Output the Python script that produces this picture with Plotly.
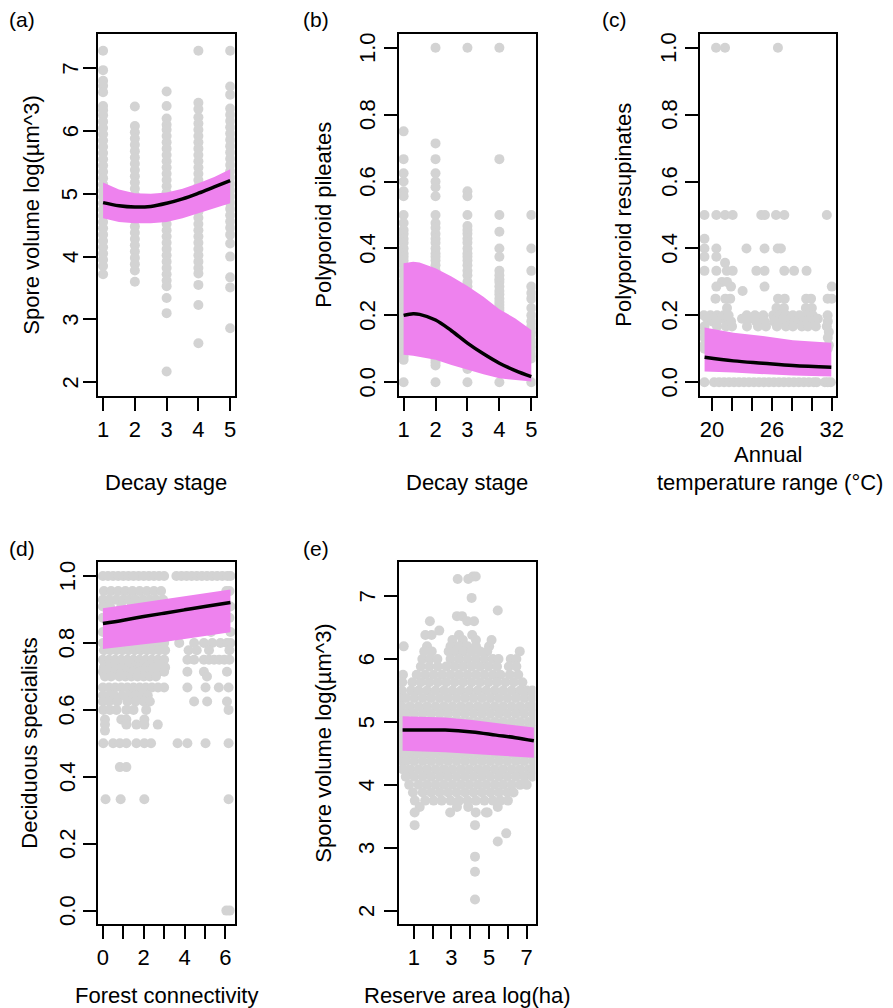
import plotly.graph_objects as go

W, H = 893, 1008
FONT = "Liberation Sans, Arial, Helvetica, sans-serif"
GREY = "#D3D3D3"
BAND = "#EE82EE"

# ------------------------------------------------------------------ data
# (a) spore volume vs decay stage
A_STAGES = [1, 2, 3, 4, 5]
A_COL_VALUES = [
    [7.28, 6.97, 6.8, 6.72, 6.62, 6.4, 6.33, 6.25, 6.15, 6.05, 5.95, 5.85, 5.75, 5.65, 5.55, 5.45, 5.35,
     5.25, 5.15, 5.05, 4.95, 4.85, 4.75, 4.65, 4.55, 4.45, 4.35, 4.25, 4.15, 4.05, 3.95, 3.85, 3.72],
    [6.39, 6.08, 5.98, 5.88, 5.78, 5.68, 5.58, 5.48, 5.38, 5.28, 5.18, 5.08, 4.98, 4.88, 4.78, 4.68,
     4.58, 4.48, 4.38, 4.28, 4.18, 4.08, 3.98, 3.88, 3.78, 3.6],
    [6.63, 6.4, 6.2, 6.1, 6.02, 5.92, 5.82, 5.72, 5.62, 5.52, 5.42, 5.32, 5.22, 5.12, 5.02, 4.92, 4.82,
     4.72, 4.62, 4.52, 4.42, 4.32, 4.22, 4.12, 4.02, 3.92, 3.82, 3.72, 3.62, 3.53, 3.34, 3.1, 2.17],
    [7.28, 6.45, 6.35, 6.22, 6.12, 6.02, 5.92, 5.82, 5.72, 5.62, 5.52, 5.42, 5.32, 5.22, 5.12, 5.02,
     4.92, 4.82, 4.72, 4.62, 4.52, 4.42, 4.32, 4.22, 4.12, 4.02, 3.92, 3.82, 3.73, 3.55, 3.23, 2.62],
    [7.28, 6.71, 6.58, 6.36, 6.26, 6.16, 6.06, 5.96, 5.86, 5.76, 5.66, 5.56, 5.46, 5.36, 5.26, 5.16,
     5.06, 4.96, 4.86, 4.76, 4.66, 4.56, 4.46, 4.35, 4.21, 4.0, 3.67, 3.51, 2.86],
]
A_FIT_X = [1, 1.5, 2, 2.5, 3, 3.5, 4, 4.5, 5]
A_FIT = [4.86, 4.81, 4.79, 4.80, 4.85, 4.92, 5.01, 5.11, 5.21]
A_UPPER = [5.18, 5.07, 5.01, 5.00, 5.02, 5.08, 5.17, 5.27, 5.39]
A_LOWER = [4.61, 4.55, 4.53, 4.53, 4.55, 4.61, 4.69, 4.77, 4.85]

# (b) polyporoid pileates vs decay stage
B_STAGES = [1, 2, 3, 4, 5]
B_COL_VALUES = [
    [0.75, 0.667, 0.625, 0.6, 0.571, 0.556, 0.5, 0.476, 0.455, 0.444, 0.429, 0.417, 0.4, 0.385, 0.375,
     0.364, 0.35, 0.333, 0.32, 0.3, 0.286, 0.273, 0.26, 0.25, 0.235, 0.222, 0.21, 0.2, 0.188, 0.176,
     0.167, 0.154, 0.143, 0.13, 0.118, 0.111, 0.1, 0.09, 0.077, 0.067, 0.0],
    [1.0, 0.714, 0.667, 0.625, 0.6, 0.583, 0.556, 0.5, 0.476, 0.462, 0.444, 0.429, 0.417, 0.4, 0.385,
     0.375, 0.364, 0.35, 0.333, 0.32, 0.3, 0.286, 0.273, 0.26, 0.25, 0.235, 0.222, 0.21, 0.2, 0.188,
     0.176, 0.167, 0.154, 0.143, 0.13, 0.118, 0.111, 0.1, 0.09, 0.077, 0.067, 0.059, 0.05, 0.0],
    [1.0, 0.571, 0.556, 0.5, 0.467, 0.455, 0.444, 0.429, 0.417, 0.4, 0.385, 0.375, 0.364, 0.35, 0.333,
     0.32, 0.3, 0.286, 0.273, 0.26, 0.25, 0.235, 0.222, 0.2, 0.182, 0.167, 0.143, 0.125, 0.111, 0.1,
     0.083, 0.071, 0.059, 0.048, 0.04, 0.0],
    [1.0, 0.667, 0.5, 0.45, 0.4, 0.375, 0.333, 0.32, 0.308, 0.3, 0.286, 0.273, 0.263, 0.25, 0.24, 0.231,
     0.222, 0.214, 0.2, 0.182, 0.167, 0.143, 0.125, 0.1, 0.083, 0.0],
    [0.5, 0.4, 0.333, 0.286, 0.267, 0.25, 0.222, 0.2, 0.182, 0.167, 0.154, 0.143, 0.125, 0.111, 0.1,
     0.083, 0.071, 0.0],
]
B_FIT_X = [1, 1.3, 1.5, 2, 2.5, 3, 3.5, 4, 4.5, 5]
B_FIT = [0.200, 0.205, 0.203, 0.186, 0.154, 0.117, 0.085, 0.057, 0.035, 0.017]
B_UPPER = [0.356, 0.360, 0.358, 0.341, 0.316, 0.288, 0.256, 0.218, 0.191, 0.156]
B_LOWER = [0.082, 0.079, 0.077, 0.067, 0.052, 0.037, 0.024, 0.012, 0.007, 0.002]

# (c) polyporoid resupinates vs annual temperature range
C_ROW_Y = [1.0, 0.5, 0.429, 0.4, 0.375, 0.357, 0.333, 0.3, 0.286, 0.273, 0.25, 0.222, 0.2, 0.19,
           0.182, 0.167, 0.15, 0.133, 0.111, 0.1, 0.0]
C_ROW_X = [
    [20.4, 21.3, 26.6],
    [19.24, 20.43, 21.3, 22.07, 24.93, 25.3, 26.41, 27.24, 31.5],
    [19.24],
    [19.24, 20.43, 23.45, 25.26, 26.58, 26.9],
    [19.24, 20.43],
    [21.3],
    [19.24, 20.43, 21.48, 22.07, 24.44, 25.26, 27.24, 28.22, 29.47],
    [20.99, 21.5],
    [20.43, 21.9, 25.26, 32.0],
    [23.06],
    [20.34, 21.33, 21.82, 26.61, 27.28, 29.43, 29.92, 31.58, 32.0],
    [21.5, 26.45, 27.2, 29.4, 30.0],
    [19.18, 19.84, 20.5, 21.16, 21.66, 23.48, 24.3, 25.13, 26.12, 26.78, 27.44, 28.1, 28.76, 29.43,
     30.09, 31.58],
    [19.5, 20.2, 20.9, 21.6, 23.0, 23.7, 24.4, 25.1, 26.4, 27.1, 27.8, 28.5, 29.2, 29.9, 30.6],
    [20.0, 20.43, 21.9, 24.4, 25.26, 26.2, 27.0, 28.2, 29.2, 29.8, 30.3, 31.6],
    [19.24, 20.5, 21.4, 22.0, 23.5, 24.6, 25.4, 26.5, 27.4, 28.1, 29.0, 29.6, 30.4, 31.5],
    [19.24, 31.7],
    [19.24, 31.6],
    [19.24, 23.0, 27.0, 31.7],
    [19.24, 25.0, 31.6],
    [19.24, 20.2, 20.7, 21.2, 21.7, 22.2, 22.7, 23.2, 23.7, 24.2, 24.7, 25.2, 25.7, 26.2, 26.7, 27.2,
     27.7, 28.2, 28.7, 29.2, 29.7, 30.2, 30.5, 31.3, 31.6, 31.9],
]
C_FIT_X = [19.25, 22.15, 25.1, 28.1, 31.95]
C_FIT = [0.075, 0.064, 0.057, 0.050, 0.045]
C_UPPER = [0.164, 0.148, 0.138, 0.126, 0.118]
C_LOWER = [0.032, 0.029, 0.025, 0.020, 0.017]

# (d) deciduous specialists vs forest connectivity
D_ROW_Y = [1.0, 0.955, 0.929, 0.909, 0.875, 0.833, 0.8, 0.778, 0.75, 0.727, 0.714, 0.7, 0.667, 0.643,
           0.625, 0.6, 0.571, 0.556, 0.538, 0.5, 0.429, 0.333, 0.0]
D_ROW_X = [
    [0.0, 0.25, 0.5, 0.75, 1.0, 1.25, 1.5, 1.75, 2.0, 2.25, 2.5, 2.75, 3.0, 3.6, 3.85, 4.1, 4.35, 4.6,
     4.85, 5.1, 5.35, 5.6, 5.85, 6.1, 6.25],
    [0.05, 0.4, 0.75, 1.1, 1.45, 1.8, 2.15, 2.5, 2.85, 6.05, 6.2],
    [0.0, 0.3, 0.65, 1.0, 1.3, 1.6, 1.95, 2.3, 2.6, 2.95],
    [0.0, 0.35, 0.9, 1.4, 2.1, 2.7, 3.05, 6.25],
    [0.0, 0.6, 1.5, 2.4, 3.3, 4.5, 5.6, 6.2],
    [0.0, 0.7, 1.6, 2.5, 3.4, 4.4, 5.3, 6.25],
    [0.0, 0.3, 0.6, 0.9, 1.2, 1.5, 1.8, 2.1, 2.4, 2.7, 3.0, 3.74, 4.47, 4.95, 5.36, 5.76, 6.08, 6.25],
    [0.05, 0.35, 0.65, 0.95, 1.25, 1.55, 1.85, 2.15, 2.45, 2.75, 3.05, 4.2, 4.6, 5.2, 6.2],
    [0.0, 0.3, 0.6, 0.9, 1.2, 1.5, 1.8, 2.1, 2.4, 2.7, 3.0, 4.14, 4.47, 4.95, 5.2, 5.45, 5.7, 5.95, 6.2],
    [0.05, 0.35, 0.65, 0.95, 1.25, 1.55, 1.85, 2.15, 2.45, 2.75, 3.05],
    [0.0, 0.3, 0.6, 0.9, 1.2, 1.5, 1.8, 2.1, 2.4, 2.7, 3.0, 4.14, 4.95, 6.08],
    [0.1, 0.4, 0.8, 1.1, 1.4, 1.7, 2.0, 2.3, 2.6, 5.1],
    [0.0, 0.3, 0.6, 0.9, 1.2, 1.5, 1.8, 2.1, 2.4, 2.7, 3.0, 4.14, 5.03, 5.68, 6.16],
    [0.0, 0.3, 0.55, 0.95, 1.3, 1.6, 1.9, 2.2],
    [0.0, 0.3, 0.7, 1.2, 1.6, 2.0, 2.3, 4.47, 5.11, 6.08],
    [0.02, 0.35, 0.66, 1.15, 1.5, 2.12, 6.16],
    [0.1, 0.9, 1.15, 2.03],
    [0.1, 1.15, 1.64, 2.03, 2.69],
    [0.1],
    [0.02, 0.5, 0.83, 1.15, 1.64, 2.03, 2.36, 3.66, 4.14, 5.03, 6.16],
    [0.83, 1.15],
    [0.13, 0.87, 2.03, 6.16],
    [6.05, 6.21],
]
D_FIT_X = [0, 1, 2, 3, 4, 5, 6.25]
D_FIT = [0.858, 0.868, 0.879, 0.889, 0.899, 0.909, 0.921]
D_UPPER = [0.904, 0.913, 0.922, 0.930, 0.940, 0.950, 0.960]
D_LOWER = [0.782, 0.789, 0.796, 0.803, 0.811, 0.820, 0.832]

# (e) spore volume vs reserve area
E_ROW_Y = [7.31, 7.27, 6.97, 6.77, 6.68, 6.6, 6.45, 6.38, 6.3, 6.2, 6.12, 6.0, 5.88, 5.75, 5.63, 5.5,
           5.38, 5.25, 5.13, 5.0, 4.88, 4.75, 4.63, 4.5, 4.38, 4.25, 4.13, 4.0, 3.88, 3.75, 3.65, 3.56,
           3.36, 3.23, 3.1, 2.86, 2.62, 2.18]
E_ROW_X = [
    [4.14, 4.29],
    [3.33, 3.89],
    [4.07],
    [5.46],
    [3.29, 3.56],
    [1.85, 3.84, 4.2],
    [2.35],
    [1.61, 1.94, 3.4, 4.1],
    [3.05, 3.6, 4.3, 5.13],
    [0.46, 1.7, 2.95, 3.4, 3.85, 4.3, 5.0],
    [1.55, 1.95, 2.85, 3.17, 3.62, 4.07, 4.52, 4.9, 6.63],
    [1.45, 1.85, 2.25, 2.95, 3.4, 3.85, 4.3, 4.75, 5.2, 5.5, 6.15, 6.45],
    [1.37, 1.82, 2.27, 2.72, 3.17, 3.62, 4.07, 4.52, 4.97, 5.42, 6.05, 6.45],
    [0.42, 1.15, 1.6, 2.05, 2.5, 2.95, 3.4, 3.85, 4.3, 4.75, 5.2, 5.6, 6.1, 6.55],
    [0.38, 0.92, 1.37, 1.82, 2.27, 2.72, 3.17, 3.62, 4.07, 4.52, 4.97, 5.42, 5.87, 6.32, 6.77],
    [0.36, 0.85, 1.25, 1.7, 2.15, 2.6, 3.05, 3.5, 3.95, 4.4, 4.85, 5.3, 5.75, 6.2, 6.65, 7.0, 7.3],
    [0.36, 0.57, 1.02, 1.47, 1.92, 2.37, 2.82, 3.27, 3.72, 4.17, 4.62, 5.07, 5.52, 5.97, 6.42, 6.87, 7.3],
    [0.35, 0.8, 1.25, 1.7, 2.15, 2.6, 3.05, 3.5, 3.95, 4.4, 4.85, 5.3, 5.75, 6.2, 6.65, 7.1, 7.32],
    [0.38, 0.57, 1.02, 1.47, 1.92, 2.37, 2.82, 3.27, 3.72, 4.17, 4.62, 5.07, 5.52, 5.97, 6.42, 6.87, 7.32],
    [0.35, 0.8, 1.25, 1.7, 2.15, 2.6, 3.05, 3.5, 3.95, 4.4, 4.85, 5.3, 5.75, 6.2, 6.65, 7.1, 7.32],
    [0.38, 0.57, 1.02, 1.47, 1.92, 2.37, 2.82, 3.27, 3.72, 4.17, 4.62, 5.07, 5.52, 5.97, 6.42, 6.87, 7.32],
    [0.35, 0.8, 1.25, 1.7, 2.15, 2.6, 3.05, 3.5, 3.95, 4.4, 4.85, 5.3, 5.75, 6.2, 6.65, 7.1, 7.32],
    [0.38, 0.57, 1.02, 1.47, 1.92, 2.37, 2.82, 3.27, 3.72, 4.17, 4.62, 5.07, 5.52, 5.97, 6.42, 6.87, 7.32],
    [0.35, 0.8, 1.25, 1.7, 2.15, 2.6, 3.05, 3.5, 3.95, 4.4, 4.85, 5.3, 5.75, 6.2, 6.65, 7.1, 7.32],
    [0.38, 0.57, 1.02, 1.47, 1.92, 2.37, 2.82, 3.27, 3.72, 4.17, 4.62, 5.07, 5.52, 5.97, 6.42, 6.87, 7.32],
    [0.4, 0.8, 1.25, 1.7, 2.15, 2.6, 3.05, 3.5, 3.95, 4.4, 4.85, 5.3, 5.75, 6.2, 6.65, 7.1, 7.32],
    [0.57, 1.02, 1.47, 1.92, 2.37, 2.82, 3.27, 3.72, 4.17, 4.62, 5.07, 5.52, 5.97, 6.42, 6.87, 7.3],
    [0.75, 1.25, 1.7, 2.15, 2.6, 3.05, 3.5, 3.95, 4.4, 4.85, 5.3, 5.75, 6.2, 6.65, 7.0],
    [0.95, 1.47, 1.92, 2.37, 2.82, 3.27, 3.72, 4.17, 4.62, 5.07, 5.52, 5.97, 6.3],
    [1.05, 1.6, 2.05, 2.48, 2.95, 3.4, 3.85, 4.3, 4.75, 5.2, 5.6, 6.0],
    [1.31, 3.29, 3.89, 5.46],
    [1.04, 2.93, 4.29, 4.83, 4.92],
    [1.04, 4.25],
    [5.91],
    [5.46],
    [4.25],
    [4.25],
    [4.25],
]
E_FIT_X = [0.4, 1.5, 2.66, 4.1, 5.37, 6.4, 7.38]
E_FIT = [4.87, 4.87, 4.87, 4.84, 4.79, 4.75, 4.70]
E_UPPER = [5.09, 5.08, 5.07, 5.03, 4.98, 4.95, 4.91]
E_LOWER = [4.54, 4.53, 4.52, 4.50, 4.47, 4.45, 4.43]

# ------------------------------------------------------------------ helpers
def cols_to_xy(cats, values):
    xs, ys = [], []
    for c, vals in zip(cats, values):
        xs += [c] * len(vals)
        ys += list(vals)
    return xs, ys


def rows_to_xy(row_y, row_x):
    xs, ys = [], []
    for y, xl in zip(row_y, row_x):
        xs += list(xl)
        ys += [y] * len(xl)
    return xs, ys


fig = go.Figure()

# panel boxes in pixels: (left, right, top, bottom); ylab_x = centre of y tick labels
PANELS = [
    dict(box=(98, 236, 34, 396), xr=[0.84, 5.14], yr=[1.78, 7.546], ylab_x=70,
         xt=[1, 2, 3, 4, 5], xtt=["1", "2", "3", "4", "5"],
         yt=[2, 3, 4, 5, 6, 7], ytt=["2", "3", "4", "5", "6", "7"]),
    dict(box=(401.7, 540, 34, 396), xr=[0.845, 5.133], yr=[-0.041, 1.041], ylab_x=370,
         xt=[1, 2, 3, 4, 5], xtt=["1", "2", "3", "4", "5"],
         yt=[0, 0.2, 0.4, 0.6, 0.8, 1.0], ytt=["0.0", "0.2", "0.4", "0.6", "0.8", "1.0"]),
    dict(box=(705.7, 844, 34, 396), xr=[18.75, 32.47], yr=[-0.041, 1.041], ylab_x=675,
         xt=[20, 22, 24, 26, 28, 30, 32], xtt=["20", "", "", "26", "", "", "32"],
         yt=[0, 0.2, 0.4, 0.6, 0.8, 1.0], ytt=["0.0", "0.2", "0.4", "0.6", "0.8", "1.0"]),
    dict(box=(98, 236.3, 562, 924), xr=[-0.24, 6.47], yr=[-0.04, 1.042], ylab_x=67,
         xt=[0, 1, 2, 3, 4, 5, 6], xtt=["0", "", "2", "", "4", "", "6"],
         yt=[0, 0.2, 0.4, 0.6, 0.8, 1.0], ytt=["0.0", "0.2", "0.4", "0.6", "0.8", "1.0"]),
    dict(box=(401.7, 540, 562, 924), xr=[0.19, 7.47], yr=[1.79, 7.54], ylab_x=370,
         xt=[1, 2, 3, 4, 5, 6, 7], xtt=["1", "", "3", "", "5", "", "7"],
         yt=[2, 3, 4, 5, 6, 7], ytt=["2", "3", "4", "5", "6", "7"]),
]

DATA = [
    (cols_to_xy(A_STAGES, A_COL_VALUES), A_FIT_X, A_FIT, A_UPPER, A_LOWER),
    (cols_to_xy(B_STAGES, B_COL_VALUES), B_FIT_X, B_FIT, B_UPPER, B_LOWER),
    (rows_to_xy(C_ROW_Y, C_ROW_X), C_FIT_X, C_FIT, C_UPPER, C_LOWER),
    (rows_to_xy(D_ROW_Y, D_ROW_X), D_FIT_X, D_FIT, D_UPPER, D_LOWER),
    (rows_to_xy(E_ROW_Y, E_ROW_X), E_FIT_X, E_FIT, E_UPPER, E_LOWER),
]

layout = dict(
    width=W, height=H, autosize=False,
    margin=dict(l=0, r=0, t=0, b=0),
    paper_bgcolor="white", plot_bgcolor="white",
    showlegend=False, font=dict(family=FONT, size=22, color="black"),
)

annotations = []


def ann(text, x, y, angle=0, size=22, yref="paper"):
    return dict(text=text, x=x / W, y=(1 - y / H) if yref == "paper" else y,
                xref="paper", yref=yref,
                showarrow=False, textangle=angle, xanchor="center", yanchor="middle",
                font=dict(family=FONT, size=size, color="black"))


for i, (p, d) in enumerate(zip(PANELS, DATA)):
    n = "" if i == 0 else str(i + 1)
    xa, ya = "x" + n, "y" + n
    (px, py), fx, fy, fu, fl = d
    fig.add_trace(go.Scatter(x=px, y=py, mode="markers", xaxis=xa, yaxis=ya,
                             marker=dict(color=GREY, size=10, line=dict(width=0)),
                             hoverinfo="skip"))
    fig.add_trace(go.Scatter(x=list(fx) + list(fx)[::-1], y=list(fu) + list(fl)[::-1],
                             mode="lines", fill="toself", fillcolor=BAND,
                             line=dict(width=0, color=BAND),
                             xaxis=xa, yaxis=ya, hoverinfo="skip"))
    fig.add_trace(go.Scatter(x=fx, y=fy, mode="lines", xaxis=xa, yaxis=ya,
                             line=dict(color="black", width=3.5, shape="spline"),
                             hoverinfo="skip"))
    l, r, t, b = p["box"]
    common = dict(showline=True, mirror=True, linecolor="black", linewidth=1.6,
                  ticks="outside", ticklen=13, tickwidth=1.6, tickcolor="black",
                  showgrid=False, zeroline=False,
                  tickfont=dict(family=FONT, size=22, color="black"))
    layout["xaxis" + n] = dict(domain=[l / W, r / W], range=p["xr"], anchor=ya,
                               tickmode="array", tickvals=p["xt"], ticktext=p["xtt"],
                               ticklabelstandoff=0, **common)
    layout["yaxis" + n] = dict(domain=[1 - b / H, 1 - t / H], range=p["yr"], anchor=xa,
                               tickmode="array", tickvals=p["yt"], ticktext=p["ytt"],
                               showticklabels=False, **common)
    # y tick labels, parallel to the axis (R style), positioned by the y axis scale
    for v, txt in zip(p["yt"], p["ytt"]):
        annotations.append(ann(txt, p["ylab_x"], v, angle=-90, yref=ya))

annotations += [
    ann("(a)", 21, 19, size=21), ann("(b)", 318, 19, size=21), ann("(c)", 620, 19, size=21),
    ann("(d)", 21, 548, size=21), ann("(e)", 318, 548, size=21),
    ann("Spore volume log(µm^3)", 30, 215, angle=-90),
    ann("Polyporoid pileates", 325, 215, angle=-90),
    ann("Polyporoid resupinates", 628, 215, angle=-90),
    ann("Deciduous specialists", 28, 743, angle=-90),
    ann("Spore volume log(µm^3)", 325, 743, angle=-90),
    ann("Decay stage", 167, 482), ann("Decay stage", 471, 482),
    ann("Annual", 775, 455), ann("temperature range (°C)", 777, 482),
    ann("Forest connectivity", 167, 995), ann("Reserve area log(ha)", 471, 995),
]
layout["annotations"] = annotations

fig.update_layout(**layout)
fig.write_html("out.html", config={"displayModeBar": False},
               post_script="document.body.style.margin='0px';document.body.style.padding='0px';")
